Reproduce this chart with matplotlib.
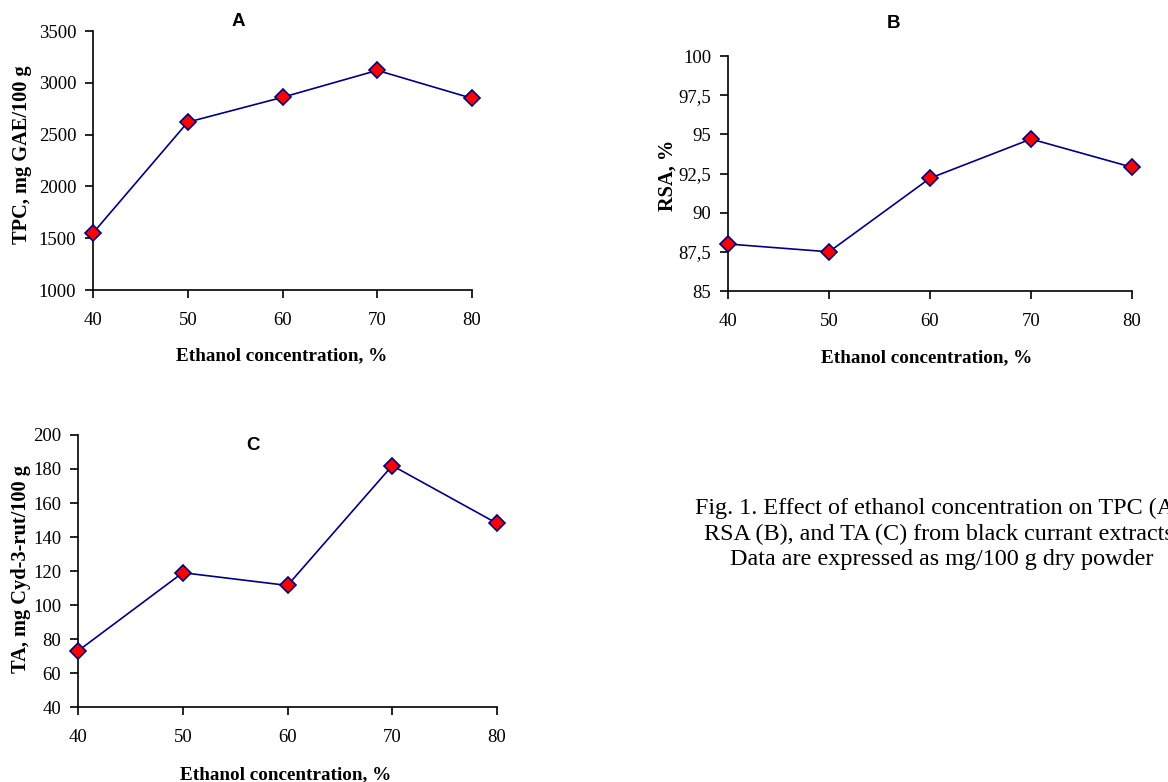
import numpy as np
import matplotlib
matplotlib.use("Agg")
import matplotlib.pyplot as plt

# dados
ethanol = [40, 50, 60, 70, 80]
tpc = [1550, 2620, 2860, 3120, 2850]
rsa = [88.0, 87.5, 92.2, 94.7, 92.9]
ta = [73, 119, 111.5, 182, 148]

tpc_ticks = [1000, 1500, 2000, 2500, 3000, 3500]
rsa_ticks = [85, 87.5, 90, 92.5, 95, 97.5, 100]
rsa_labels = ["85", "87,5", "90", "92,5", "95", "97,5", "100"]
ta_ticks = [40, 60, 80, 100, 120, 140, 160, 180, 200]

W, H = 1168, 782
serif = "Liberation Serif"
sans = "Liberation Sans"

fig = plt.figure(figsize=(W / 100, H / 100), dpi=100)


def px_axes(l, r, t, b):
    return fig.add_axes([l / W, 1 - b / H, (r - l) / W, (b - t) / H])


def fx(x):
    return x / W


def fy(y):
    return 1 - y / H


def style(ax, yticks, ylabels=None):
    for s in ["top", "right"]:
        ax.spines[s].set_visible(False)
    for s in ["left", "bottom"]:
        ax.spines[s].set_linewidth(1.2)
    ax.set_xlim(40, 80)
    ax.set_xticks(ethanol)
    ax.set_yticks(yticks)
    if ylabels is not None:
        ax.set_yticklabels(ylabels)
    ax.set_ylim(yticks[0], yticks[-1])
    ax.tick_params(axis="x", direction="out", length=6, width=1.2, pad=10,
                   labelsize=13.5)
    ax.tick_params(axis="y", direction="out", length=6, width=1.2, pad=6,
                   labelsize=13.5)
    for lab in ax.get_xticklabels() + ax.get_yticklabels():
        lab.set_fontfamily(serif)


def draw(ax, y):
    ax.plot(ethanol, y, color="#000080", lw=1.2, marker="D", markersize=8.5,
            markerfacecolor="#ff0000", markeredgecolor="#000080",
            markeredgewidth=1.2, clip_on=False, zorder=5)


# A
axA = px_axes(93, 472, 31, 290)
draw(axA, tpc)
style(axA, tpc_ticks)
fig.text(fx(238), fy(22), "A", ha="center", va="center", fontsize=13.5,
         fontweight="bold", family=sans)
fig.text(fx(22), fy(155), "TPC, mg GAE/100 g", rotation=90, ha="center",
         va="center", fontsize=14.7, fontweight="bold", family=serif)
fig.text(fx(282), fy(356), "Ethanol concentration, %", ha="center",
         va="center", fontsize=13.8, fontweight="bold", family=serif)

# B
axB = px_axes(728, 1132, 56, 291)
draw(axB, rsa)
style(axB, rsa_ticks, rsa_labels)
fig.text(fx(893), fy(23), "B", ha="center", va="center", fontsize=13.5,
         fontweight="bold", family=sans)
fig.text(fx(668), fy(175), "RSA, %", rotation=90, ha="center",
         va="center", fontsize=14.7, fontweight="bold", family=serif)
fig.text(fx(927), fy(358), "Ethanol concentration, %", ha="center",
         va="center", fontsize=13.8, fontweight="bold", family=serif)

# C
axC = px_axes(78, 497, 435, 707)
draw(axC, ta)
style(axC, ta_ticks)
fig.text(fx(253), fy(445), "C", ha="center", va="center", fontsize=13.5,
         fontweight="bold", family=sans)
fig.text(fx(21), fy(569), "TA, mg Cyd-3-rut/100 g", rotation=90,
         ha="center", va="center", fontsize=14.7, fontweight="bold",
         family=serif)
fig.text(fx(286), fy(775), "Ethanol concentration, %", ha="center",
         va="center", fontsize=13.8, fontweight="bold", family=serif)

# legenda da figura (cortada na borda direita como no original)
caption = ("Fig. 1. Effect of ethanol concentration on TPC (A),\n"
           "RSA (B), and TA (C) from black currant extracts.\n"
           "Data are expressed as mg/100 g dry powder")
fig.text(fx(942), fy(534), caption, ha="center", va="center",
         multialignment="center", fontsize=17.4, family=serif,
         linespacing=1.3)

fig.savefig("out.png", dpi=100)
